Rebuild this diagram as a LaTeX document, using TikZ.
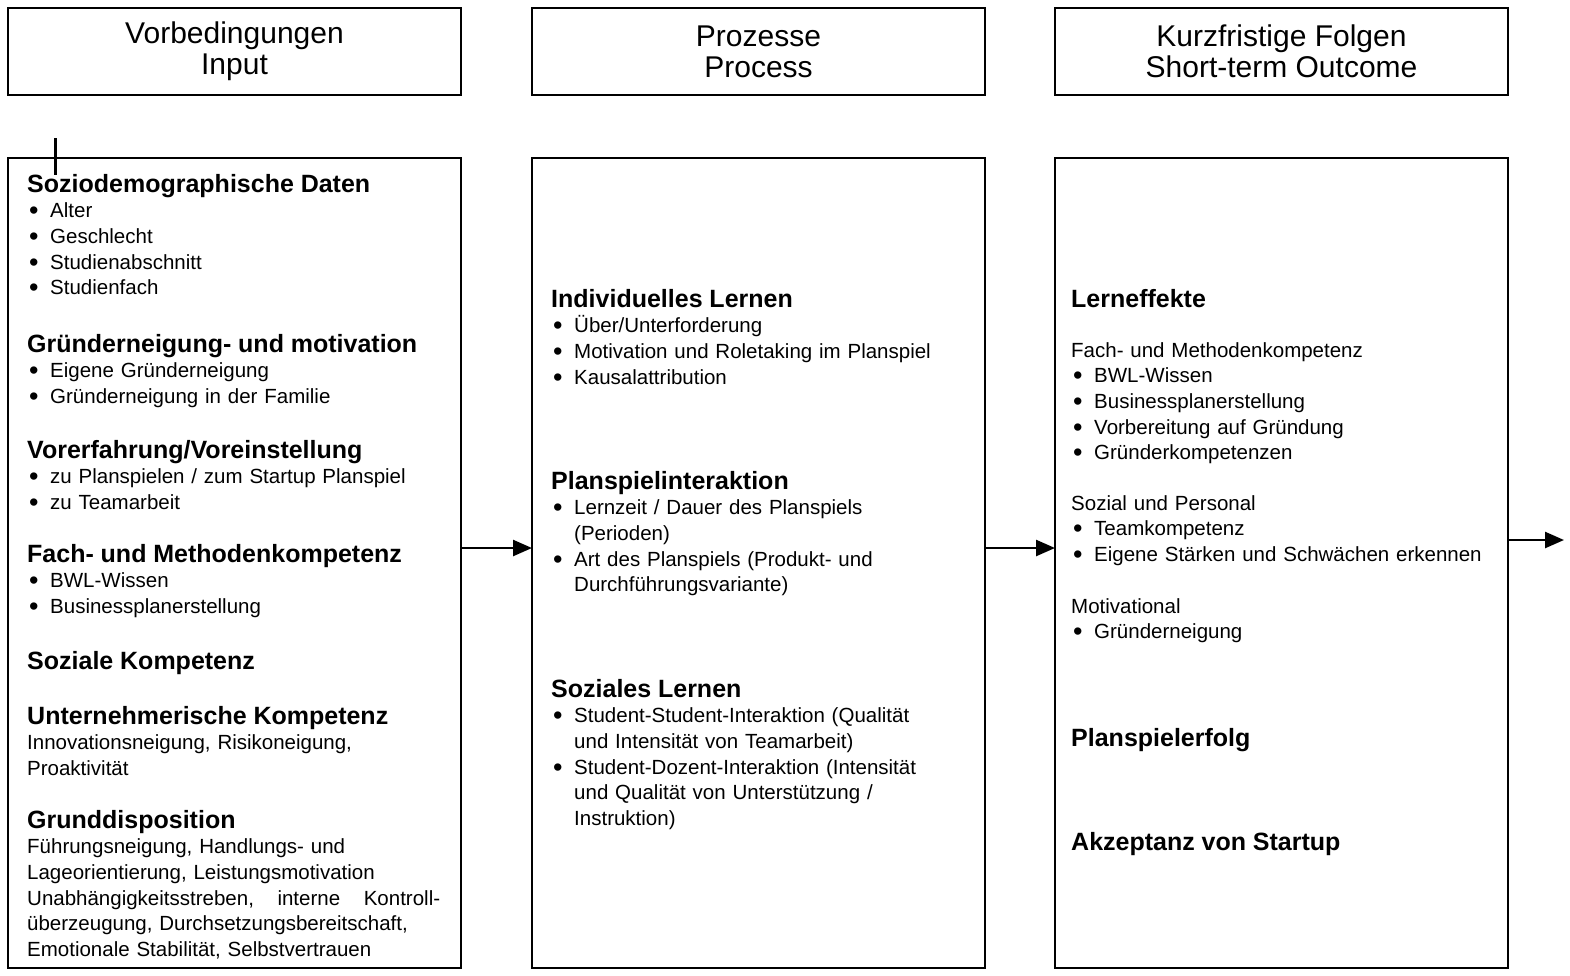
\documentclass[tikz,border=0pt]{standalone}
\usepackage{fontspec}
\setmainfont{Liberation Sans}
\usetikzlibrary{arrows.meta,calc,positioning}

\newcommand{\hd}[1]{{\fontsize{25}{25.7}\selectfont\bfseries #1}}
\newcommand{\bl}[1]{\par\noindent\hangindent=23pt\hangafter=1\makebox[23pt][l]{\hspace{2pt}\raisebox{-2pt}{\fontsize{27}{25.7}\selectfont\textbullet}}#1\par}

\tikzset{
  hdr/.style={draw, line width=1.5pt, outer sep=0pt, inner sep=0pt,
    minimum width=453pt, minimum height=87pt, align=center,
    font=\fontsize{30}{31}\selectfont},
  col/.style={draw, line width=1.5pt, outer sep=0pt, inner sep=0pt,
    minimum width=453pt, minimum height=810pt},
  sec/.style={anchor=base west, inner sep=0pt, text width=430pt,
    font=\fontsize{20.5}{25.7}\selectfont},
  arr/.style={line width=2.5pt, -{Triangle[length=19pt,width=16pt]}}
}

\begin{document}
\begin{tikzpicture}[x=1pt,y=-1pt]
      \useasboundingbox (0,0) rectangle (1570,975);
      % headers
      \node[hdr] (hin) at (234.5,51.5) {Vorbedingungen\\Input};
      \node[hdr, right=71pt of hin] (hproc) {Prozesse\\Process};
      \node[hdr, right=70pt of hproc] (hout) {Kurzfristige Folgen\\Short-term Outcome};
      % columns
      \node[col, below=63pt of hin] (cin) {};
      \node[col, below=63pt of hproc] (cproc) {};
      \node[col, below=63pt of hout] (cout) {};
      \coordinate (tick) at (55,138);
      \draw[line width=3pt] (tick) -- ++(0,37);
      % input
      \node[sec] (sozio) at (27,192) {\hd{Soziodemographische Daten}\bl{Alter}\bl{Geschlecht}\bl{Studienabschnitt}\bl{Studienfach}};
      \node[sec] (gruend) at (27,352) {\hd{Gründerneigung- und motivation}\bl{Eigene Gründerneigung}\bl{Gründerneigung in der Familie}};
      \node[sec] (vorerf) at (27,458) {\hd{Vorerfahrung/Voreinstellung}\bl{zu Planspielen / zum Startup Planspiel}\bl{zu Teamarbeit}};
      \node[sec] (fach) at (27,562) {\hd{Fach- und Methodenkompetenz}\bl{BWL-Wissen}\bl{Businessplanerstellung}};
      \node[sec] (sozkomp) at (27,669) {\hd{Soziale Kompetenz}};
      \node[sec] (untern) at (27,724) {\hd{Unternehmerische Kompetenz}\par Innovationsneigung, Risikoneigung,\par Proaktivität};
      \node[sec] (grund) at (27,828) {\hd{Grunddisposition}\par Führungsneigung, Handlungs- und\par Lageorientierung, Leistungsmotivation\par
        \noindent\hbox to 413pt{Unabhängigkeitsstreben,\hfill interne\hfill Kontroll-}\par überzeugung, Durchsetzungsbereitschaft,\par Emotionale Stabilität, Selbstvertrauen};
      % process
      \node[sec] (indiv) at (551,307) {\hd{Individuelles Lernen}\bl{Über/Unterforderung}\bl{Motivation und Roletaking im Planspiel}\bl{Kausalattribution}};
      \node[sec] (inter) at (551,489) {\hd{Planspielinteraktion}\bl{Lernzeit / Dauer des Planspiels\newline(Perioden)}\bl{Art des Planspiels (Produkt- und\newline Durchführungsvariante)}};
      \node[sec] (sozlern) at (551,697) {\hd{Soziales Lernen}\bl{Student-Student-Interaktion (Qualität\newline und Intensität von Teamarbeit)}\bl{Student-Dozent-Interaktion (Intensität\newline und Qualität von Unterstützung /\newline Instruktion)}};
      % outcome
      \node[sec] (lern) at (1071,307) {\hd{Lerneffekte}};
      \node[sec] (fachm) at (1071,357) {Fach- und Methodenkompetenz\bl{BWL-Wissen}\bl{Businessplanerstellung}\bl{Vorbereitung auf Gründung}\bl{Gründerkompetenzen}};
      \node[sec] (sozper) at (1071,510) {Sozial und Personal\bl{Teamkompetenz}\bl{Eigene Stärken und Schwächen erkennen}};
      \node[sec] (motiv) at (1071,613) {Motivational\bl{Gründerneigung}};
      \node[sec] (erfolg) at (1071,746) {\hd{Planspielerfolg}};
      \node[sec] (akzept) at (1071,850) {\hd{Akzeptanz von Startup}};
      % arrows
      \draw[arr] ([yshift=15pt]cin.east) -- ([yshift=15pt]cproc.west);
      \draw[arr] ([yshift=15pt]cproc.east) -- ([yshift=15pt]cout.west);
      \coordinate (ende) at (1564,540);
      \draw[arr] (cout.east |- ende) -- (ende);
    \end{tikzpicture}
\end{document}
